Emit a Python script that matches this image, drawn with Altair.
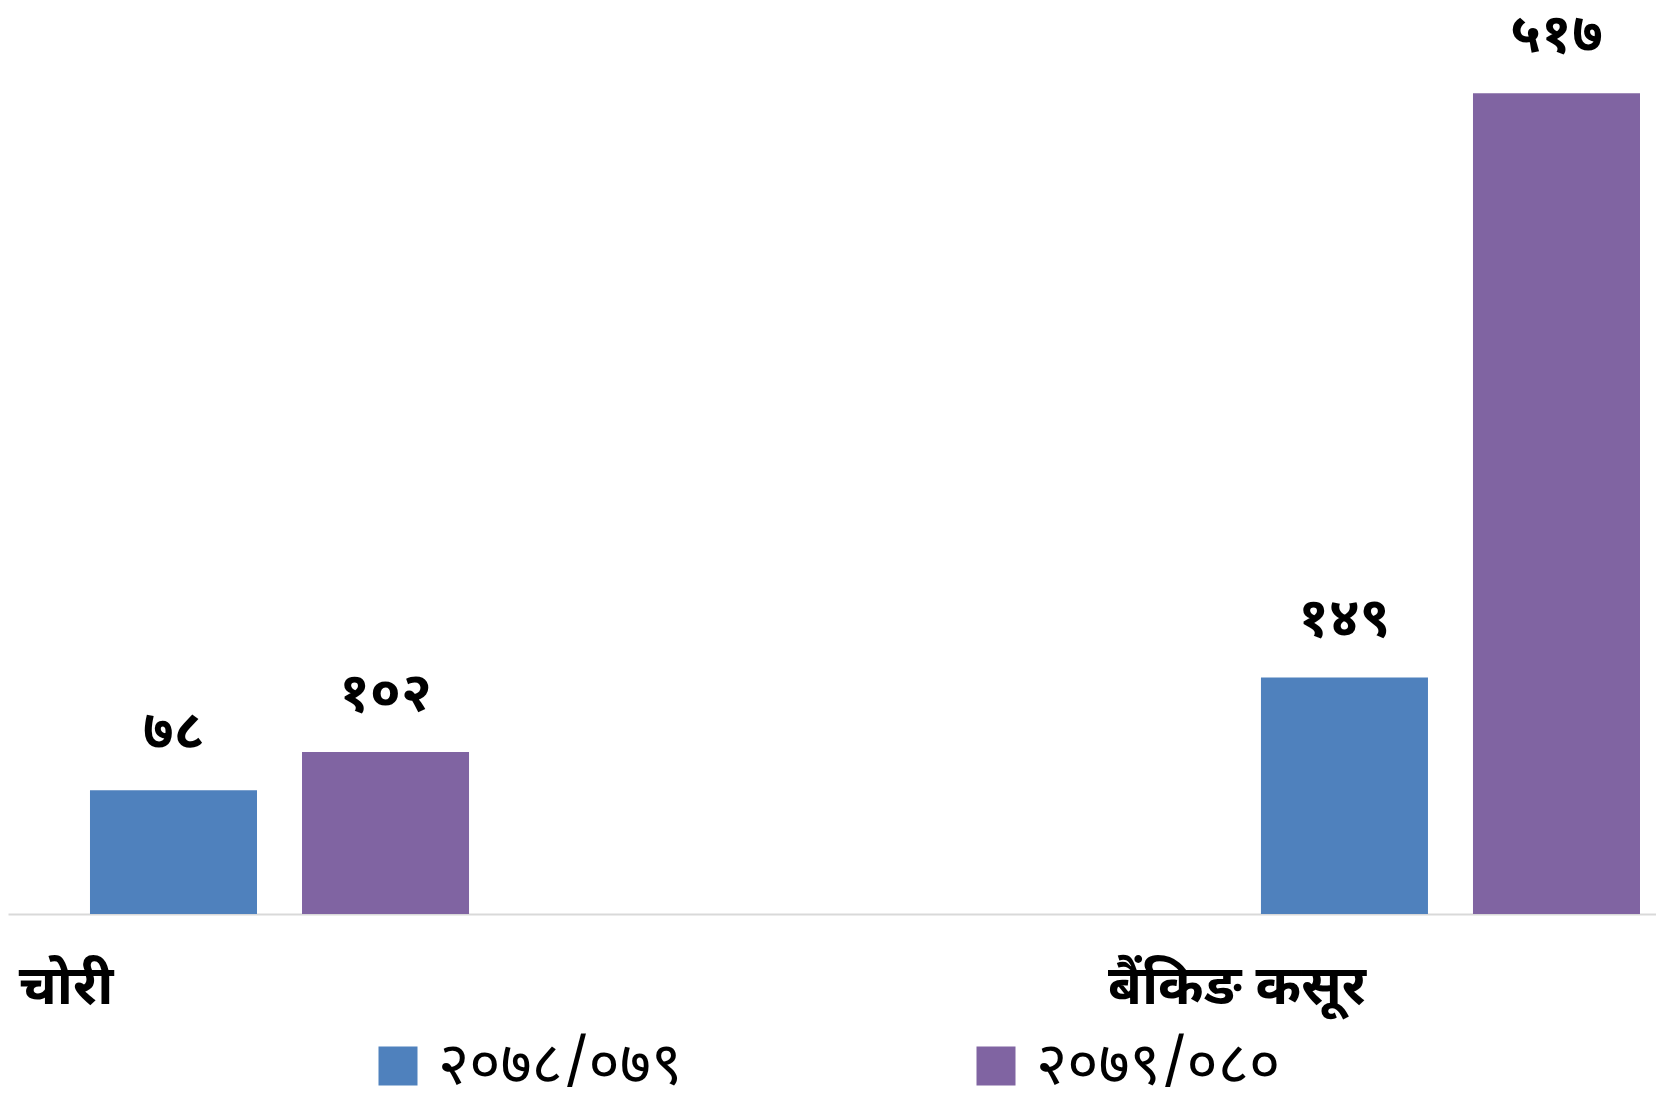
import altair as alt
import pandas as pd

categories = ["चोरी", "बैंकिङ कसूर"]
series = ["२०७८/०७९", "२०७९/०८०"]
values_2078_079 = [78, 149]
values_2079_080 = [102, 517]
colors = ["#4F81BD", "#8064A2"]

DEV = str.maketrans("0123456789", "०१२३४५६७८९")

rows = []
for s, vals in zip(series, [values_2078_079, values_2079_080]):
    for c, v in zip(categories, vals):
        rows.append({"category": c, "series": s, "value": v,
                     "label": str(v).translate(DEV)})
df = pd.DataFrame(rows)

FONT = "Noto Sans Devanagari, Noto Sans, sans-serif"

x = alt.X(
    "category:N", sort=categories, title=None,
    scale=alt.Scale(paddingInner=0.6763, paddingOuter=0.04184, align=0.8367),
    axis=alt.Axis(labelAngle=0, labelOffset=-213.5, labelFontSize=55,
                  labelFontWeight="bold", labelFont=FONT, labelColor="black",
                  labelBaseline="alphabetic", labelPadding=89, labelLimit=600,
                  ticks=False, domainColor="#D9D9D9", domainWidth=2,
                  grid=False),
)
xoff = alt.XOffset("series:N", sort=series,
                   scale=alt.Scale(paddingInner=0.2123, paddingOuter=0))
y = alt.Y("value:Q", scale=alt.Scale(domain=[0, 560], nice=False), axis=None)

base = alt.Chart(df)

bars = base.mark_bar().encode(
    x=x, xOffset=xoff, y=y,
    color=alt.Color(
        "series:N", sort=series,
        scale=alt.Scale(domain=series, range=colors),
        legend=alt.Legend(
            title=None, orient="none", legendX=360, legendY=1011,
            direction="horizontal", symbolType="square", symbolSize=1521,
            symbolStrokeWidth=0, labelFontSize=60, labelFont=FONT,
            labelColor="black", labelOffset=10, columnPadding=283,
            labelBaseline="middle", padding=0, labelLimit=600,
        ),
    ),
)

labels = base.mark_text(
    dy=-41, baseline="alphabetic", fontSize=55, fontWeight="bold",
    font=FONT, color="black",
).encode(x=x, xOffset=xoff, y=y, text="label:N")

chart = (
    alt.layer(bars, labels)
    .properties(
        width=1648, height=889,
        autosize=alt.AutoSizeParams(type="none"),
        padding={"left": 0, "top": 17, "right": 0, "bottom": 173},
    )
    .configure_view(stroke=None)
)

chart.save("out.html", embed_options={"renderer": "svg", "actions": False})
